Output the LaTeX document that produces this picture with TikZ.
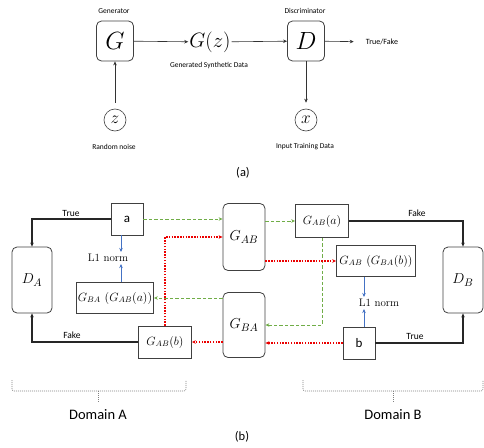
\documentclass[tikz,border=0pt]{standalone}
\usepackage{fontspec}
\newfontfamily\labelfont{Carlito}
\usetikzlibrary{arrows.meta}
\definecolor{mapgreen}{RGB}{112,173,71}
\definecolor{backred}{RGB}{235,0,0}
\definecolor{normblue}{RGB}{68,114,196}
\tikzset{
  round box/.style={draw=black!75,line width=0.8pt,rounded corners=5pt,inner sep=0pt},
  plain box/.style={draw=black!75,line width=0.8pt,inner sep=0pt,font=\fontsize{12}{14}\selectfont},
  noise circle/.style={draw=black!75,line width=0.6pt,circle,minimum size=22pt,inner sep=0pt,font=\fontsize{19}{19}\selectfont},
  small label/.style={font=\labelfont\fontsize{7.5}{9}\selectfont,inner sep=0pt},
  score label/.style={font=\labelfont\fontsize{9.5}{11}\selectfont,inner sep=0pt},
  norm label/.style={font=\fontsize{11}{13}\selectfont,inner sep=2pt},
  caption label/.style={font=\labelfont\fontsize{12.5}{14}\selectfont,inner sep=0pt},
  domain label/.style={font=\labelfont\fontsize{14.5}{16}\selectfont,inner sep=0pt},
  flow line/.style={->,line width=0.6pt,black!80},
  score line/.style={->,line width=1.2pt,black!85},
  map line/.style={->,line width=1pt,mapgreen,dash pattern=on 3.5pt off 2pt},
  back line/.style={->,line width=1.2pt,backred,dash pattern=on 1.5pt off 1.3pt},
  norm line/.style={->,line width=1pt,normblue},
  domain brace/.style={line width=0.6pt,gray,dash pattern=on 1pt off 1pt},
  >={Stealth[length=4pt,width=3.5pt]},
}

\begin{document}
\begin{tikzpicture}[x=1pt,y=-1pt]
\useasboundingbox (0,0) rectangle (484,447);
% (a) generator and discriminator
\node[round box,minimum width=37pt,minimum height=40pt,font=\fontsize{26}{26}\selectfont] (G) at (115,41) {$G$};
\node[small label] (genlabel) at (114,11) {Generator};
\node[font=\fontsize{20}{20}\selectfont,inner sep=1pt] (Gz) at (210,42) {$G(z)$};
\node[small label] (gzlabel) at (209,65) {Generated Synthetic Data};
\node[round box,minimum width=37pt,minimum height=40pt,font=\fontsize{26}{26}\selectfont] (D) at (306,41) {$D$};
\node[small label] (disclabel) at (305,11) {Discriminator};
\node[small label,font=\labelfont\fontsize{8}{9}\selectfont] (tf) at (382,42) {True/Fake};
\node[noise circle] (z) at (115,120) {$z$};
\node[small label] (zlabel) at (114,147) {Random noise};
\node[noise circle] (x) at (306,120) {$x$};
\node[small label] (xlabel) at (305,147) {Input Training Data};
\node[caption label] (capa) at (243,173) {(a)};
\draw[flow line] (G) -- (Gz);
\draw[flow line] (Gz) -- (D);
\draw[flow line,shorten >=12pt] (D) -- (tf);
\draw[flow line,shorten <=6pt] (z) -- (G);
\draw[flow line,shorten >=6pt] (D) -- (x);
% (b) cycle between the two domains
\node[round box,minimum width=40pt,minimum height=66pt,font=\fontsize{15}{15}\selectfont] (DA) at (32,280) {$D_A$};
\node[round box,minimum width=40pt,minimum height=66pt,font=\fontsize{15}{15}\selectfont] (DB) at (463,280) {$D_B$};
\node[round box,minimum width=42pt,minimum height=67pt,font=\fontsize{15}{15}\selectfont] (GAB) at (244,237) {$G_{AB}$};
\node[round box,minimum width=42pt,minimum height=65pt,font=\fontsize{15}{15}\selectfont] (GBA) at (244,325) {$G_{BA}$};
\node[plain box,minimum size=32pt,font=\labelfont\fontsize{13}{13}\selectfont] (a) at (127,219) {a};
\node[plain box,minimum size=32pt,font=\labelfont\fontsize{13}{13}\selectfont] (b) at (359,343) {b};
\node[plain box,minimum width=53pt,minimum height=33pt] (GABa) at (322,221) {$G_{AB}(a)$};
\node[plain box,minimum width=79pt,minimum height=31pt] (GABGBAb) at (376,261) {$G_{AB}\ (G_{BA}(b))$};
\node[plain box,minimum width=77pt,minimum height=31pt] (GBAGABa) at (115,298) {$G_{BA}\ (G_{AB}(a))$};
\node[plain box,minimum width=53pt,minimum height=32pt] (GABb) at (165,342) {$G_{AB}(b)$};
\node[norm label] (normA) at (108,258) {L1 norm};
\node[norm label] (normB) at (379,303) {L1 norm};
\node[score label] (trueA) at (71,213) {True};
\node[score label] (fakeA) at (72,335) {Fake};
\node[score label] (fakeB) at (417,213) {Fake};
\node[score label] (trueB) at (415,336) {True};
\draw[score line] (a.west) -| (DA.north);
\draw[score line] (GABb.west) -| (DA.south);
\draw[score line] (GABa.east) -| (DB.north);
\draw[score line] (b.east) -| (DB.south);
\draw[map line] (a.east) -- (a.east -| GAB.west);
\draw[map line] (GABa.west -| GAB.east) -- (GABa.west);
\draw[map line] (GABa.south) |- (GBA.east);
\draw[map line] (GBAGABa.east -| GBA.west) -- (GBAGABa.east);
\draw[back line] (GABb.north) |- (GAB.west);
\draw[back line] (GABGBAb.west -| GAB.east) -- (GABGBAb.west);
\draw[back line] (b.west) -- (b.west -| GBA.east);
\draw[back line] (GABb.east -| GBA.west) -- (GABb.east);
\draw[norm line] ([xshift=-6pt]a.south) -- ([xshift=-6pt]a.south |- normA.north);
\draw[norm line] ([xshift=6pt]GBAGABa.north) -- ([xshift=6pt]GBAGABa.north |- normA.south);
\draw[norm line] ([xshift=-12pt]GABGBAb.south) -- ([xshift=-12pt]GABGBAb.south |- normB.north);
\draw[norm line] ([xshift=5pt]b.north) -- ([xshift=5pt]b.north |- normB.south);
% domain braces
\draw[domain brace,rounded corners=2pt] (12,380) -- (12,391) -- (186,391) -- (186,380);
\draw[domain brace] (98,391) -- (98,403);
\draw[domain brace,rounded corners=2pt] (303,380) -- (303,391) -- (483,391) -- (483,380);
\draw[domain brace] (393,391) -- (393,403);
\node[domain label] (domA) at (98,415) {Domain A};
\node[domain label] (domB) at (393,415) {Domain B};
\node[caption label] (capb) at (242,437) {(b)};
\end{tikzpicture}
\end{document}
